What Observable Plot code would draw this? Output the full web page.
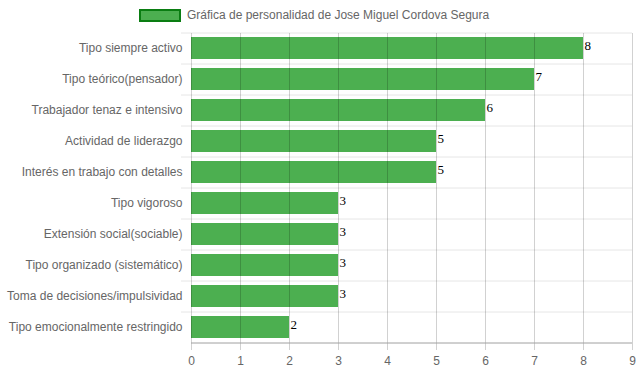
<!DOCTYPE html>
<html>
<head>
<meta charset="utf-8">
<script src="https://cdn.jsdelivr.net/npm/d3@7"></script>
<script src="https://cdn.jsdelivr.net/npm/@observablehq/plot@0.6"></script>
<style>
  body { margin: 0; background: #fff; }
  #wrap { position: relative; width: 639px; height: 372px; }
  #legend { position: absolute; left: 139px; top: 8px; display: flex; align-items: center;
    font: 12px "Liberation Sans", Arial, sans-serif; color: #666; }
  #legend .sw { width: 38px; height: 9px; background: #4CAF50; border: 2px solid #0a7d12; margin-right: 6px; }
  #chart { position: absolute; left: 0; top: 0; }
</style>
</head>
<body>
<div id="wrap">
  <div id="chart"></div>
  <div id="legend"><span class="sw"></span><span>Gráfica de personalidad de Jose Miguel Cordova Segura</span></div>
</div>
<script>
const categories = [
  "Tipo siempre activo",
  "Tipo teórico(pensador)",
  "Trabajador tenaz e intensivo",
  "Actividad de liderazgo",
  "Interés en trabajo con detalles",
  "Tipo vigoroso",
  "Extensión social(sociable)",
  "Tipo organizado (sistemático)",
  "Toma de decisiones/impulsividad",
  "Tipo emocionalmente restringido"
];
const values = [8, 7, 6, 5, 5, 3, 3, 3, 3, 2];
const xTicks = [0, 1, 2, 3, 4, 5, 6, 7, 8, 9];

const data = categories.map((c, i) => ({ cat: c, value: values[i] }));

const plot = Plot.plot({
  width: 639,
  height: 372,
  marginLeft: 191,
  marginRight: 7,
  marginTop: 33,
  marginBottom: 29,
  style: { fontFamily: "'Liberation Sans', Arial, sans-serif", fontSize: "12px", color: "#666", background: "transparent" },
  x: { domain: [0, 9], ticks: xTicks, label: null },
  y: { domain: categories, paddingInner: 0.28, paddingOuter: 0.14, label: null },
  marks: [
    Plot.ruleY(categories, { y: d => d, dy: -15.5, stroke: "#e6e6e6", strokeWidth: 1, insetLeft: -10 }),
    Plot.barX(data, { x: "value", y: "cat", fill: "#4CAF50" }),
    Plot.ruleX(xTicks, { x: d => d, stroke: "rgba(0,0,0,0.18)", strokeWidth: 1, insetBottom: -7 }),
    Plot.ruleY([0], { y: () => categories[categories.length - 1], dy: 15.5, stroke: "#a0a0a0" }),
    Plot.text(data, { x: "value", y: "cat", text: d => String(d.value), textAnchor: "start", dx: 1, dy: -3,
      fill: "#000", fontFamily: "'Liberation Serif', 'Times New Roman', serif", fontSize: 13 }),
    Plot.axisX({ ticks: xTicks, tickSize: 0, tickPadding: 13, fill: "#666", label: null }),
    Plot.axisY({ tickSize: 0, tickPadding: 9, fill: "#666", label: null })
  ]
});
document.getElementById("chart").appendChild(plot);
</script>
</body>
</html>
